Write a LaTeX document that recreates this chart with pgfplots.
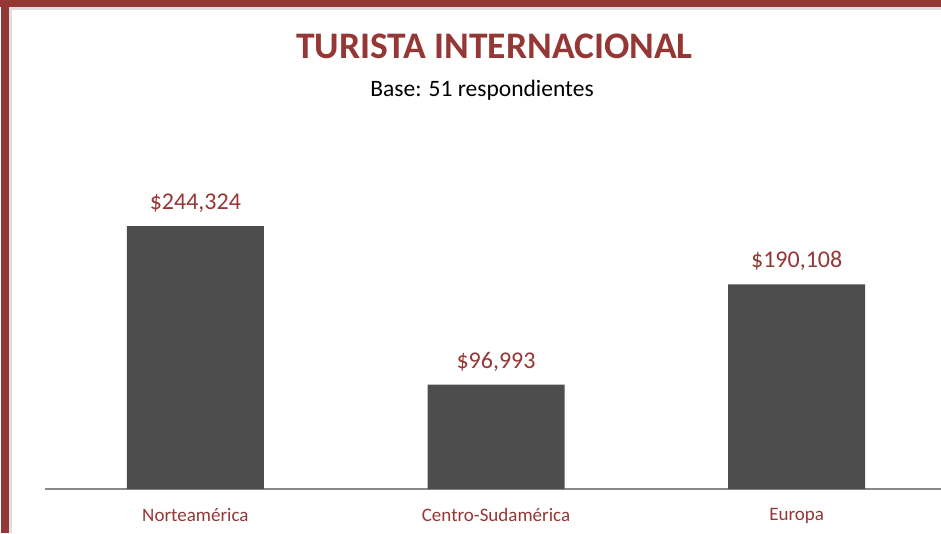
\documentclass[border=0pt]{standalone}
\usepackage{pgfplots}
\pgfplotsset{compat=1.18}
\usepackage{fontspec}
\setmainfont{Carlito}
\definecolor{dred}{HTML}{953735}
\definecolor{bargray}{HTML}{4D4D4D}
\definecolor{axgray}{HTML}{898989}
\begin{document}
\begin{tikzpicture}[x=1pt,y=1pt]
\path[use as bounding box, fill=white] (0,0) rectangle (941,533);
% frame
\fill[gray!25] (9,0) rectangle (12,526);
\fill[gray!25] (9,523) rectangle (941,526);
\fill[dred] (0,526) rectangle (941,533);
\fill[dred] (1,0) rectangle (9,533);
\begin{axis}[
  at={(45pt,44pt)}, anchor=south west,
  scale only axis, width=896pt, height=322.8pt,
  xmin=-0.5, xmax=2.48, ymin=0, ymax=300000,
  axis x line*=bottom, axis y line=none,
  x axis line style={axgray, line width=1.5pt},
  ytick=\empty,
  xtick={0,1,2}, xticklabels={Norteamérica,Centro-Sudamérica,Europa},
  major tick length=0pt,
  xticklabel style={text=dred, font=\fontsize{19}{22}\selectfont, yshift=-16pt},
  clip=false,
  ybar, bar width=137pt,
  nodes near coords={\$\pgfmathprintnumber{\pgfplotspointmeta}},
  /pgf/number format/.cd, fixed, precision=0, 1000 sep={,}, assume math mode=true,
  /pgfplots/.cd,
  nodes near coords style={text=dred, font=\fontsize{24}{28}\selectfont, anchor=south, yshift=10pt},
]
\addplot[fill=bargray, draw=none] coordinates {(0,244324) (1,96993) (2,190108)};
\end{axis}
\node[anchor=base, text=dred, font=\fontsize{37.5}{40}\selectfont\bfseries] at (494.5,474.7) {TURISTA INTERNACIONAL};
\node[anchor=base, font=\fontsize{23.5}{26}\selectfont] at (482,436.3) {Base: 51 respondientes};
\end{tikzpicture}
\end{document}
